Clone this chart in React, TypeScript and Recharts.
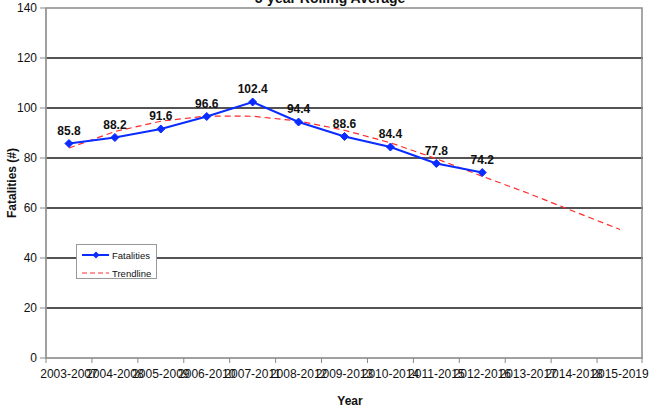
import React from 'react';
import {
  LineChart,
  Line,
  XAxis,
  YAxis,
  CartesianGrid,
  LabelList,
  Legend,
  Customized,
} from 'recharts';

const PERIODS = [
  '2003-2007', '2004-2008', '2005-2009', '2006-2010', '2007-2011', '2008-2012', '2009-2013',
  '2010-2014', '2011-2015', '2012-2016', '2013-2017', '2014-2018', '2015-2019',
];
const FATALITIES = [85.8, 88.2, 91.6, 96.6, 102.4, 94.4, 88.6, 84.4, 77.8, 74.2];
// polynomial trendline
const TREND = [84.0, 90.6, 94.7, 96.8, 96.7, 94.8, 91.1, 86.1, 79.7, 72.7, 65.9, 58.6, 51.4];
const Y_TICKS = [0, 20, 40, 60, 80, 100, 120, 140];
const Y_MAX = 140;

const W = 649;
const H = 407;
const MARGIN = { top: 8, right: 6, bottom: 19, left: 0 };
const Y_AXIS_W = 46;
const X_AXIS_H = 30;
const PLOT_LEFT = MARGIN.left + Y_AXIS_W;
const PLOT_W = W - MARGIN.right - PLOT_LEFT;
const PLOT_H = H - MARGIN.top - MARGIN.bottom - X_AXIS_H;
const BAND = PLOT_W / PERIODS.length;

const FONT = 'Liberation Sans, Arial, sans-serif';
const BLUE = '#0a2cff';
const RED = '#ff2a2a';
const TICK_SIZE = 5;
const TICK_MARGIN = 6;

const data = PERIODS.map((period, i) => ({
  period,
  fatalities: i < FATALITIES.length ? FATALITIES[i] : null,
  trend: TREND[i],
}));

// inner gridlines (dark), skipping the frame at 0 and max
const innerLines = ({ offset }: any) =>
  Y_TICKS.filter((v) => v > 0 && v < Y_MAX).map((v) => offset.top + offset.height * (1 - v / Y_MAX));

function PeriodTick(props: any) {
  const { x, y, payload, index } = props;
  const axisY = y - TICK_SIZE - TICK_MARGIN;
  const left = x - BAND / 2;
  return (
    <g>
      <line x1={left} x2={left} y1={axisY} y2={axisY + TICK_SIZE} stroke="#888" />
      {index === PERIODS.length - 1 && (
        <line x1={x + BAND / 2 - 1} x2={x + BAND / 2 - 1} y1={axisY} y2={axisY + TICK_SIZE} stroke="#888" />
      )}
      <text x={x} y={y} dy="0.71em" textAnchor="middle" fontSize={12} fill="#111" fontFamily={FONT}>
        {payload.value}
      </text>
    </g>
  );
}

function Diamond(props: any) {
  const { cx, cy } = props;
  if (cx == null || cy == null) return null;
  const r = 4;
  return (
    <polygon
      points={`${cx},${cy - r} ${cx + r},${cy} ${cx},${cy + r} ${cx - r},${cy}`}
      fill={BLUE}
      stroke={BLUE}
    />
  );
}

function LegendBox() {
  return (
    <div
      style={{
        width: 79,
        height: 33,
        border: '1px solid #999',
        background: '#fff',
        fontFamily: FONT,
        fontSize: 9.5,
        color: '#111',
        boxSizing: 'content-box',
      }}
    >
      <svg width={79} height={33} style={{ display: 'block' }}>
        <line x1={5} x2={32} y1={10} y2={10} stroke={BLUE} strokeWidth={2} />
        <polygon points="19,6.5 22.5,10 19,13.5 15.5,10" fill={BLUE} />
        <text x={35} y={13.5} fontSize={9.5} fontFamily={FONT} fill="#111">Fatalities</text>
        <line x1={5} x2={32} y1={28} y2={28} stroke={RED} strokeDasharray="5 3" />
        <text x={35} y={31.5} fontSize={9.5} fontFamily={FONT} fill="#111">Trendline</text>
      </svg>
    </div>
  );
}

function Frame() {
  return (
    <g>
      <rect
        x={PLOT_LEFT}
        y={MARGIN.top}
        width={PLOT_W - 1}
        height={PLOT_H}
        fill="none"
        stroke="#8a8a8a"
        strokeWidth={1.5}
      />
      <g fontFamily={FONT} fontWeight="bold" fill="#111">
        <text x={330} y={3} textAnchor="middle" fontSize={14}>5-year Rolling Average</text>
        <text x={12} y={183} textAnchor="middle" fontSize={12} dy="0.35em" transform="rotate(-90 12 183)">
          Fatalities (#)
        </text>
        <text x={350} y={405} textAnchor="middle" fontSize={12}>Year</text>
      </g>
    </g>
  );
}

export default function App() {
  return (
    <div style={{ position: 'absolute', left: 0, top: 0, background: '#fff' }}>
      <LineChart width={W} height={H} data={data} margin={MARGIN}>
        <CartesianGrid
          vertical={false}
          stroke="#1a1a1a"
          strokeWidth={1.4}
          horizontalCoordinatesGenerator={innerLines}
        />
        <XAxis
          dataKey="period"
          interval={0}
          height={X_AXIS_H}
          padding={{ left: BAND / 2, right: BAND / 2 }}
          tickLine={false}
          tickSize={TICK_SIZE}
          tickMargin={TICK_MARGIN}
          axisLine={{ stroke: '#999' }}
          tick={<PeriodTick />}
        />
        <YAxis
          width={Y_AXIS_W}
          domain={[0, Y_MAX]}
          ticks={Y_TICKS}
          interval={0}
          tickSize={6}
          tickMargin={3}
          axisLine={{ stroke: '#999' }}
          tickLine={{ stroke: '#888' }}
          tick={{ fontSize: 12, fill: '#111', fontFamily: FONT }}
        />
        <Line
          dataKey="trend"
          stroke={RED}
          strokeWidth={1.2}
          strokeDasharray="6 4"
          dot={false}
          activeDot={false}
          isAnimationActive={false}
        />
        <Line
          dataKey="fatalities"
          stroke={BLUE}
          strokeWidth={2}
          dot={<Diamond />}
          activeDot={false}
          isAnimationActive={false}
        >
          <LabelList
            dataKey="fatalities"
            position="top"
            offset={9}
            fontSize={12}
            fontWeight="bold"
            fill="#111"
            fontFamily={FONT}
          />
        </Line>
        <Legend
          layout="horizontal"
          verticalAlign="middle"
          align="center"
          content={() => <LegendBox />}
          wrapperStyle={{ left: 76, top: 244, width: 81, height: 35 }}
        />
        <Customized component={Frame} />
      </LineChart>
    </div>
  );
}
